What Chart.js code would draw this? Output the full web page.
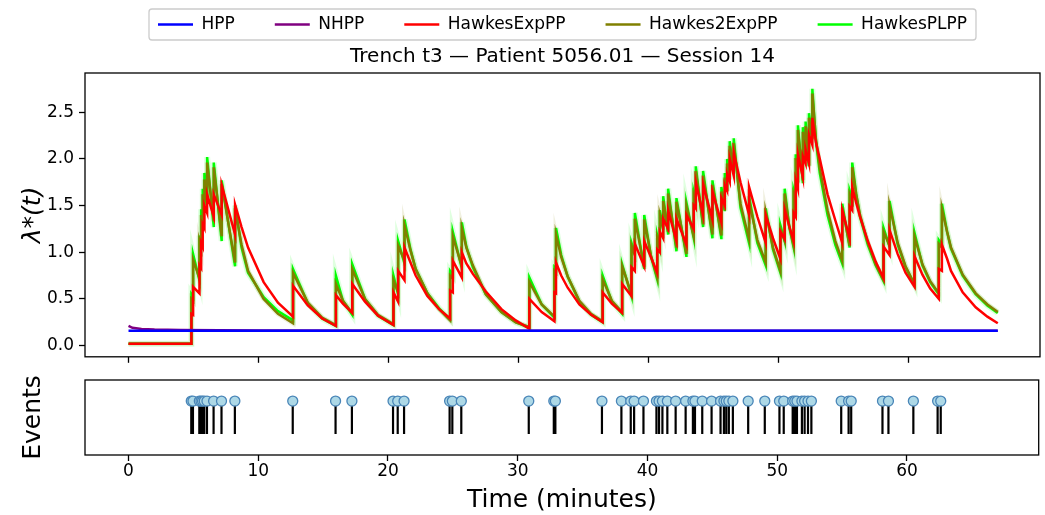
<!DOCTYPE html>
<html lang="en">
<head>
  <meta charset="UTF-8" />
  <title>Trench t3 — Patient 5056.01 — Session 14</title>
  <style>
    html, body {
      margin: 0;
      padding: 0;
      background: #fff;
    }

    #wrap {
      position: relative;
      width: 1045px;
      height: 515px;
    }

    #lambdaChart {
      position: absolute;
      left: 0;
      top: 0;
    }

    #eventChart {
      position: absolute;
      left: 0;
      top: 372px;
    }
  </style>
</head>
<body>
  <div id="wrap">
    <canvas id="lambdaChart" width="1045" height="372"></canvas>
    <canvas id="eventChart" width="1045" height="143"></canvas>
  </div>

  <script src="https://cdn.jsdelivr.net/npm/chart.js"></script>
  <script>
    // event times (minutes)
    const eventTimes = [4.84, 4.97, 5.46, 5.59, 5.71, 5.84, 6.05, 6.56, 7.17, 8.20,
      12.66, 15.96, 17.22, 20.39, 20.75, 21.24, 24.75, 24.96, 25.65,
      30.85, 32.78, 32.90, 36.49, 37.99, 38.71, 38.97, 39.69,
      40.69, 40.89, 41.15, 41.53, 42.17, 42.94, 43.50, 43.66, 44.22, 44.94,
      45.63, 45.89, 46.07, 46.27, 46.58, 47.76, 49.04,
      50.17, 50.50, 51.19, 51.35, 51.52, 51.90, 52.11, 52.37, 52.63,
      54.93, 55.50, 55.70, 58.11, 58.57, 60.49, 62.36, 62.60];

    // HPP / NHPP intensities
    const hppT = [0, 66.9];
    const hppVals = [0.16, 0.16];
    const nhppT = [0, 0.3, 1, 2, 4, 10, 30, 66.9];
    const nhppVals = [0.21, 0.19, 0.178, 0.172, 0.167, 0.163, 0.16, 0.158];

    // knot times for the Hawkes curves (each event appears twice: before / after the jump)
    const curveT = [
      0, 4.84, 4.84, 4.97, 4.97, 5.46, 5.46, 5.59, 5.59, 5.71, 5.71, 5.84, 5.84, 6.05, 6.05, 6.56, 6.56, 7.17, 7.17, 8.20, 8.20,
      8.7, 9.2, 10.4, 11.5, 12.66, 12.66, 13.8, 14.9, 15.96, 15.96, 16.5, 17.22, 17.22, 18.2, 19.2,
      20.39, 20.39, 20.75, 20.75, 21.24, 21.24, 21.7, 22.1, 23.0, 23.9, 24.75, 24.75, 24.96, 24.96, 25.65, 25.65,
      26.0, 26.5, 27.5, 28.7, 29.8, 30.85, 30.85, 31.8, 32.78, 32.78, 32.90, 32.90, 33.3, 33.8, 34.7, 35.6,
      36.49, 36.49, 37.2, 37.99, 37.99, 38.71, 38.71, 38.97, 38.97, 39.69, 39.69, 40.2,
      40.69, 40.69, 40.89, 40.89, 41.15, 41.15, 41.53, 41.53, 42.17, 42.17, 42.94, 42.94,
      43.50, 43.50, 43.66, 43.66, 44.22, 44.22, 44.94, 44.94,
      45.63, 45.63, 45.89, 45.89, 46.07, 46.07, 46.27, 46.27, 46.58, 46.58, 47.1,
      47.76, 47.76, 48.4, 49.04, 49.04, 49.6, 50.17, 50.17, 50.50, 50.50, 50.85,
      51.19, 51.19, 51.35, 51.35, 51.52, 51.52, 51.90, 51.90, 52.11, 52.11, 52.37, 52.37, 52.63, 52.63,
      52.9, 53.2, 53.8, 54.4, 54.93, 54.93, 55.50, 55.50, 55.70, 55.70, 56.0, 56.3, 56.9, 57.5,
      58.11, 58.11, 58.57, 58.57, 59.2, 59.8, 60.49, 60.49, 61.1, 61.7,
      62.36, 62.36, 62.60, 62.60, 63.0, 63.3, 64.2, 65.2, 66.1, 66.9
    ];

    const expVals = [
      0.02, 0.02, 0.34, 0.33, 0.63, 0.56, 0.86, 0.83, 1.10, 1.06, 1.30, 1.26, 1.50, 1.42, 1.62, 1.38, 1.62, 1.40, 1.72, 1.19, 1.51,
      1.27, 1.05, 0.68, 0.46, 0.31, 0.64, 0.43, 0.29, 0.21, 0.54, 0.45, 0.35, 0.66, 0.47, 0.32,
      0.22, 0.57, 0.47, 0.80, 0.70, 1.05, 0.89, 0.75, 0.53, 0.39, 0.29, 0.59, 0.57, 0.91, 0.73, 1.00,
      0.88, 0.77, 0.58, 0.39, 0.27, 0.18, 0.50, 0.36, 0.26, 0.57, 0.56, 0.89, 0.75, 0.62, 0.44, 0.33,
      0.25, 0.57, 0.45, 0.35, 0.66, 0.53, 0.84, 0.80, 1.09, 0.85, 1.12, 0.95,
      0.78, 1.03, 1.00, 1.22, 1.15, 1.36, 1.25, 1.45, 1.12, 1.36, 1.08, 1.40,
      1.25, 1.50, 1.47, 1.75, 1.40, 1.73, 1.35, 1.65,
      1.32, 1.58, 1.50, 1.72, 1.66, 1.84, 1.76, 2.00, 1.82, 2.07, 1.75,
      1.40, 1.70, 1.38, 1.10, 1.40, 1.15, 0.93, 1.22, 1.14, 1.46, 1.28,
      1.12, 1.42, 1.38, 1.77, 1.68, 2.05, 1.80, 2.03, 1.95, 2.10, 1.95, 2.26, 2.15, 2.44,
      2.18, 2.00, 1.62, 1.34, 1.10, 1.45, 1.15, 1.49, 1.45, 1.70, 1.53, 1.38, 1.12, 0.90,
      0.72, 1.06, 0.97, 1.24, 0.98, 0.78, 0.63, 0.96, 0.76, 0.61,
      0.50, 0.82, 0.80, 1.08, 0.93, 0.80, 0.57, 0.41, 0.31, 0.24
    ];

    const twoExpVals = [
      0.02, 0.02, 0.50, 0.48, 0.92, 0.72, 1.12, 1.05, 1.40, 1.30, 1.62, 1.50, 1.78, 1.55, 1.96, 1.33, 1.91, 1.17, 1.73, 0.89, 1.47,
      1.08, 0.80, 0.50, 0.34, 0.24, 0.78, 0.46, 0.30, 0.22, 0.66, 0.48, 0.35, 0.82, 0.50, 0.33,
      0.23, 0.70, 0.57, 1.07, 0.91, 1.29, 1.02, 0.82, 0.56, 0.39, 0.27, 0.75, 0.72, 1.17, 0.85, 1.26,
      1.05, 0.86, 0.55, 0.36, 0.25, 0.20, 0.68, 0.44, 0.31, 0.80, 0.78, 1.19, 0.95, 0.74, 0.48, 0.34,
      0.26, 0.71, 0.48, 0.36, 0.85, 0.55, 1.07, 0.97, 1.36, 0.84, 1.35, 0.97,
      0.73, 1.15, 1.05, 1.40, 1.25, 1.55, 1.22, 1.63, 1.05, 1.54, 0.98, 1.49,
      1.17, 1.60, 1.52, 1.87, 1.30, 1.82, 1.19, 1.72,
      1.18, 1.65, 1.45, 1.80, 1.65, 1.95, 1.78, 2.14, 1.85, 2.17, 1.52,
      1.14, 1.55, 1.13, 0.89, 1.43, 1.05, 0.80, 1.25, 1.12, 1.63, 1.28,
      1.07, 1.62, 1.55, 2.01, 1.75, 2.31, 1.77, 2.29, 1.98, 2.35, 1.93, 2.44, 2.21, 2.70,
      2.22, 1.90, 1.45, 1.12, 0.91, 1.48, 1.07, 1.62, 1.55, 1.91, 1.62, 1.40, 1.10, 0.87,
      0.70, 1.22, 1.07, 1.50, 1.10, 0.85, 0.66, 1.17, 0.87, 0.69,
      0.56, 1.09, 1.05, 1.47, 1.22, 1.05, 0.76, 0.56, 0.44, 0.36
    ];

    const plVals = [
      0.02, 0.02, 0.55, 0.52, 0.98, 0.70, 1.18, 1.05, 1.46, 1.30, 1.68, 1.50, 1.85, 1.52, 2.02, 1.27, 1.96, 1.12, 1.77, 0.85, 1.50,
      1.05, 0.78, 0.52, 0.37, 0.27, 0.82, 0.45, 0.29, 0.21, 0.75, 0.48, 0.33, 0.87, 0.50, 0.32,
      0.22, 0.75, 0.55, 1.12, 0.88, 1.35, 1.03, 0.82, 0.56, 0.40, 0.28, 0.80, 0.76, 1.22, 0.83, 1.32,
      1.06, 0.84, 0.55, 0.36, 0.25, 0.19, 0.73, 0.44, 0.30, 0.84, 0.82, 1.26, 0.97, 0.74, 0.47, 0.33,
      0.25, 0.75, 0.47, 0.34, 0.87, 0.53, 1.10, 0.98, 1.42, 0.82, 1.40, 0.96,
      0.71, 1.18, 1.06, 1.45, 1.24, 1.60, 1.19, 1.68, 1.01, 1.58, 0.95, 1.53,
      1.15, 1.64, 1.54, 1.92, 1.27, 1.87, 1.15, 1.77,
      1.14, 1.70, 1.44, 1.85, 1.66, 2.00, 1.78, 2.19, 1.84, 2.22, 1.48,
      1.10, 1.60, 1.10, 0.86, 1.47, 1.03, 0.78, 1.29, 1.12, 1.68, 1.27,
      1.05, 1.66, 1.57, 2.05, 1.74, 2.36, 1.74, 2.34, 1.98, 2.40, 1.92, 2.49, 2.22, 2.75,
      2.20, 1.85, 1.40, 1.08, 0.88, 1.52, 1.05, 1.66, 1.57, 1.96, 1.63, 1.38, 1.08, 0.86,
      0.69, 1.26, 1.06, 1.55, 1.08, 0.84, 0.65, 1.21, 0.86, 0.68,
      0.55, 1.13, 1.08, 1.52, 1.22, 1.04, 0.75, 0.55, 0.43, 0.35
    ];

    const xTicks = [0, 10, 20, 30, 40, 50, 60];
    const yTicks = [0, 0.5, 1, 1.5, 2, 2.5];

    const X_MIN = -3.35, X_MAX = 70.15;

    Chart.defaults.font.family = "'DejaVu Sans', sans-serif";
    Chart.defaults.color = '#000';

    function pairs(ts, vs) {
      return ts.map((t, i) => ({ x: t, y: vs[i] }));
    }

    // matplotlib-style box around the plot area
    const frame = {
      id: 'frame',
      afterDatasetsDraw(chart) {
        const { ctx, chartArea: a } = chart;
        ctx.save();
        ctx.strokeStyle = '#000';
        ctx.lineWidth = 1.3;
        ctx.strokeRect(a.left, a.top, a.right - a.left, a.bottom - a.top);
        ctx.restore();
      }
    };

    // light rounded frame around the legend items
    const legendFrame = {
      id: 'legendFrame',
      afterDraw(chart) {
        const boxes = chart.legend && chart.legend.legendHitBoxes;
        if (!boxes || !boxes.length) return;
        const ctx = chart.ctx;
        const l = Math.min(...boxes.map(b => b.left)) - 9;
        const r = Math.max(...boxes.map(b => b.left + b.width)) + 9;
        const t = boxes[0].top - 7;
        const h = boxes[0].height + 14;
        ctx.save();
        ctx.strokeStyle = '#cccccc';
        ctx.lineWidth = 1.3;
        ctx.beginPath();
        ctx.roundRect(l, t, r - l, h, 3);
        ctx.stroke();
        ctx.restore();
      }
    };

    const tickGrid = {
      display: true,
      drawOnChartArea: false,
      tickLength: 6,
      tickColor: '#000',
      tickWidth: 1.3
    };

    const line = (label, data, color, width) => ({
      label, data,
      borderColor: color,
      backgroundColor: color,
      borderWidth: width,
      pointRadius: 0,
      tension: 0,
      fill: false
    });

    new Chart(document.getElementById('lambdaChart'), {
      type: 'line',
      data: {
        datasets: [
          line('HPP', pairs(hppT, hppVals), '#0000ff', 2.5),
          line('NHPP', pairs(nhppT, nhppVals), '#800080', 2.5),
          line('HawkesExpPP', pairs(curveT, expVals), '#ff0000', 2.5),
          line('Hawkes2ExpPP', pairs(curveT, twoExpVals), '#808000', 2.5),
          line('HawkesPLPP', pairs(curveT, plVals), '#00ff00', 2.5),
          line('band 2exp', pairs(curveT, twoExpVals), 'rgba(128,128,0,0.12)', 5),
          line('band pl', pairs(curveT, plVals), 'rgba(0,255,0,0.12)', 6)
        ]
      },
      options: {
        responsive: false,
        animation: false,
        layout: { padding: { left: 18, right: 5, top: -24, bottom: 0 } },
        plugins: {
          tooltip: { enabled: false },
          legend: {
            position: 'top',
            fullSize: false,
            labels: {
              usePointStyle: true,
              pointStyle: 'line',
              pointStyleWidth: 35,
              padding: 40,
              font: { size: 17 },
              color: '#000',
              filter: item => item.datasetIndex < 5
            }
          },
          title: {
            display: true,
            fullSize: false,
            text: 'Trench t3 — Patient 5056.01 — Session 14',
            font: { size: 20, weight: 'normal' },
            color: '#000',
            padding: { top: 2, bottom: 4 },
            weight: 500
          }
        },
        scales: {
          x: {
            type: 'linear',
            min: X_MIN,
            max: X_MAX,
            afterBuildTicks: s => { s.ticks = xTicks.map(v => ({ value: v })); },
            ticks: { display: false },
            grid: tickGrid,
            border: { display: false },
            afterFit: s => { s.height = 10; }
          },
          y: {
            min: -0.12,
            max: 2.92,
            afterBuildTicks: s => { s.ticks = yTicks.map(v => ({ value: v })); },
            ticks: { font: { size: 17 }, padding: 5, callback: v => Number(v).toFixed(1) },
            grid: tickGrid,
            border: { display: false },
            title: { display: true, text: 'λ*(t)', font: { size: 25, style: 'italic' }, padding: 0 },
            afterFit: s => { s.width = 67; }
          }
        }
      },
      plugins: [frame, legendFrame]
    });

    new Chart(document.getElementById('eventChart'), {
      type: 'line',
      data: {
        datasets: [
          {
            label: 'Event markers',
            data: eventTimes.map(t => ({ x: t, y: 1 })),
            showLine: false,
            pointRadius: 5,
            pointBackgroundColor: '#add8e6',
            pointBorderColor: '#4a86b8',
            pointBorderWidth: 1.3
          },
          {
            label: 'Event stems',
            data: eventTimes.flatMap(t => [{ x: t, y: 0 }, { x: t, y: 1 }, { x: t, y: null }]),
            borderColor: '#000',
            borderWidth: 2.2,
            pointRadius: 0,
            spanGaps: false
          }
        ]
      },
      options: {
        responsive: false,
        animation: false,
        layout: { padding: { left: 18, right: 5, top: 8, bottom: 0 } },
        plugins: {
          legend: { display: false },
          tooltip: { enabled: false }
        },
        scales: {
          x: {
            type: 'linear',
            min: X_MIN,
            max: X_MAX,
            afterBuildTicks: s => { s.ticks = xTicks.map(v => ({ value: v })); },
            ticks: { font: { size: 17 }, padding: 0, maxRotation: 0 },
            grid: tickGrid,
            border: { display: false },
            title: { display: true, text: 'Time (minutes)', font: { size: 25 }, padding: 0 },
            afterFit: s => { s.height = 60; }
          },
          y: {
            min: -0.64,
            max: 1.64,
            ticks: { display: false },
            grid: { display: false },
            border: { display: false },
            title: { display: true, text: 'Events', font: { size: 25 }, padding: 0 },
            afterFit: s => { s.width = 67; }
          }
        }
      },
      plugins: [frame]
    });
  </script>
</body>
</html>
